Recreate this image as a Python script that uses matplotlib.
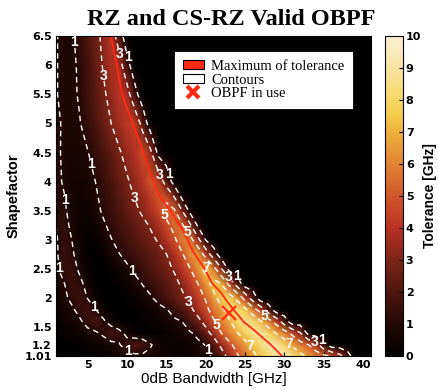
import numpy as np
import matplotlib
matplotlib.use("Agg")
import matplotlib.pyplot as plt
from matplotlib.colors import LinearSegmentedColormap
from matplotlib.patches import Patch
from matplotlib.lines import Line2D

# ---------------- data ----------------
bandwidth_ghz = list(range(1, 42))          # 0dB bandwidth grid [GHz]
shapefactor = [1.01, 1.2, 1.4, 1.6, 1.8, 2.0, 2.25, 2.5, 2.75, 3.0,
               3.25, 3.5, 3.75, 4.0, 4.5, 5.0, 5.5, 6.0, 6.5]

# tolerance [GHz] per shapefactor row, starting at 1 GHz bandwidth (black = 0 beyond)
tol_sf_101 = [0.02, 0.03, 0.05, 0.08, 0.12, 0.18, 0.25, 0.35, 0.5, 0.6, 0.75, 0.8, 0.7, 0.55,
              0.45, 0.35, 0.3, 0.35, 0.5, 0.75, 1.15, 2.2, 3.6, 4.8, 5.7, 6.6, 7.4, 8.2, 9.0,
              9.3, 8.6, 7.5, 6.6, 5.9, 5.4, 4.7, 3.6, 1.8]
tol_sf_120 = [0.05, 0.05, 0.1, 0.15, 0.2, 0.3, 0.45, 0.65, 0.9, 1.5, 2.0, 1.8, 1.1, 0.6, 0.35,
              0.25, 0.3, 0.45, 0.7, 1.05, 2.0, 3.4, 4.6, 5.6, 6.5, 7.4, 8.3, 9.1, 9.1, 8.0,
              6.7, 5.8, 5.1, 3.9, 1.5]
tol_sf_140 = [0.15, 0.2, 0.3, 0.45, 0.65, 0.8, 1.2, 1.8, 1.4, 0.7, 0.3, 0.15, 0.1, 0.15, 0.25,
              0.4, 0.6, 0.85, 1.3, 2.4, 3.5, 5.0, 6.0, 6.9, 7.8, 8.7, 9.0, 8.0, 6.9, 6.0, 4.6,
              3.2, 0.6]
tol_sf_160 = [0.2, 0.3, 0.5, 0.8, 1.4, 1.9, 1.2, 0.5, 0.15, 0.05, 0.05, 0.1, 0.2, 0.35, 0.55,
              0.8, 1.0, 1.75, 2.5, 3.5, 4.8, 5.9, 6.8, 8.0, 8.7, 8.4, 7.2, 5.9, 4.2, 1.9]
tol_sf_180 = [0.3, 0.5, 0.8, 1.35, 1.75, 1.05, 0.45, 0.1, 0.03, 0.05, 0.1, 0.2, 0.4, 0.65, 0.9,
              1.4, 2.0, 2.6, 3.6, 4.6, 5.6, 6.6, 7.8, 8.4, 7.5, 5.9, 4.2, 1.9]
tol_sf_200 = [0.4, 0.75, 1.25, 1.6, 0.98, 0.35, 0.05, 0.02, 0.05, 0.15, 0.3, 0.55, 0.85, 1.3,
              1.8, 2.3, 2.75, 3.3, 4.2, 5.1, 6.5, 7.7, 8.0, 6.6, 4.4, 2.1]
tol_sf_225 = [0.6, 0.95, 1.5, 1.3, 0.6, 0.15, 0.05, 0.05, 0.15, 0.35, 0.65, 1.05, 1.45, 1.85,
              2.25, 2.65, 3.2, 4.1, 5.0, 6.4, 7.5, 7.0, 4.55, 2.1]
tol_sf_250 = [0.8, 1.4, 1.5, 0.8, 0.2, 0.05, 0.05, 0.2, 0.45, 0.8, 1.2, 1.6, 2.0, 2.35, 2.7,
              3.1, 4.0, 4.9, 6.3, 7.4, 5.8, 3.2, 0.5]
tol_sf_275 = [0.85, 1.45, 1.2, 0.5, 0.1, 0.1, 0.25, 0.55, 0.95, 1.3, 1.65, 1.95, 2.3, 2.6,
              2.95, 3.9, 4.8, 6.2, 6.6, 4.3, 2.0]
tol_sf_300 = [0.9, 1.4, 1.0, 0.4, 0.15, 0.2, 0.5, 0.95, 1.35, 1.7, 2.05, 2.4, 2.75, 3.1, 3.9,
              4.7, 5.9, 5.8, 3.6, 1.0]
tol_sf_325 = [1.0, 1.35, 0.8, 0.4, 0.25, 0.45, 0.85, 1.25, 1.65, 2.0, 2.35, 2.7, 3.1, 3.7,
              4.6, 5.5, 5.3, 3.4, 0.8]
tol_sf_350 = [1.1, 1.2, 0.6, 0.4, 0.4, 0.7, 1.15, 1.5, 1.95, 2.4, 2.75, 3.2, 3.8, 4.5, 5.5,
              5.3, 3.1, 0.6]
tol_sf_375 = [1.2, 1.05, 0.6, 0.45, 0.55, 0.85, 1.3, 1.7, 2.15, 2.6, 3.05, 3.55, 4.2, 5.0,
              4.6, 2.9, 0.5]
tol_sf_400 = [1.25, 0.9, 0.6, 0.55, 0.7, 1.0, 1.45, 1.9, 2.4, 2.85, 3.35, 3.95, 5.0, 4.3, 2.2,
              0.35]
tol_sf_450 = [1.2, 0.85, 0.65, 0.75, 0.95, 1.4, 1.85, 2.35, 2.85, 3.4, 4.0, 4.8, 3.4, 0.5]
tol_sf_500 = [1.15, 0.9, 0.75, 0.95, 1.4, 1.95, 2.5, 3.0, 3.6, 4.2, 4.4, 2.3]
tol_sf_550 = [1.05, 0.8, 0.8, 1.1, 1.65, 2.2, 2.8, 3.4, 4.1, 3.8, 1.6]
tol_sf_600 = [1.05, 0.8, 0.8, 1.15, 1.75, 2.4, 3.1, 3.8, 3.9, 1.6]
tol_sf_650 = [1.05, 0.8, 0.85, 1.4, 2.0, 2.6, 3.3, 4.1, 2.0]

# maximum-of-tolerance curve (red line)
max_tol_sf = [6.5, 6.0, 5.5, 5.0, 4.65, 4.3, 4.0, 3.8, 3.5, 3.15, 2.8, 2.5, 2.26, 2.12,
              1.88, 1.6, 1.46, 1.34, 1.2, 1.01]
max_tol_bw = [8.0, 8.7, 9.4, 10.7, 11.7, 12.6, 13.4, 13.9, 15.5, 17.2, 18.4, 19.9, 20.8,
              21.8, 23.1, 24.8, 26.1, 27.1, 28.3, 29.7]

# OBPF in use
obpf_bw = [23.0]
obpf_sf = [1.75]

contour_levels = [1, 3, 5, 7]
x_ticks = [5, 10, 15, 20, 25, 30, 35, 40]
y_ticks = [1.01, 1.2, 1.5, 2, 2.5, 3, 3.5, 4, 4.5, 5, 5.5, 6, 6.5]
y_tick_labels = ["1.01", "1.2", "1.5", "2", "2.5", "3", "3.5", "4", "4.5", "5", "5.5", "6", "6.5"]
cbar_ticks = list(range(0, 11))

# ---------------- build grid ----------------
rows = [tol_sf_101, tol_sf_120, tol_sf_140, tol_sf_160, tol_sf_180, tol_sf_200, tol_sf_225,
        tol_sf_250, tol_sf_275, tol_sf_300, tol_sf_325, tol_sf_350, tol_sf_375, tol_sf_400,
        tol_sf_450, tol_sf_500, tol_sf_550, tol_sf_600, tol_sf_650]
n_bw = len(bandwidth_ghz)
Z = np.array([r + [0.0] * (n_bw - len(r)) for r in rows])
X, Y = np.meshgrid(bandwidth_ghz, shapefactor)

cmap = LinearSegmentedColormap.from_list(
    "tol",
    [(0.0, "#000000"), (0.1, "#240905"), (0.2, "#4e160e"), (0.3, "#7e2418"),
     (0.4, "#b83224"), (0.5, "#d1562a"), (0.6, "#e08334"), (0.7, "#eeb03c"),
     (0.75, "#f4cb48"), (0.8, "#f6d766"), (0.9, "#f8e3a2"), (1.0, "#fbeed2")])

# ---------------- figure ----------------
fig = plt.figure(figsize=(4.38, 3.9), dpi=100)
ax = fig.add_axes([0.1279, 0.0872, 0.7192, 0.8205])
cax = fig.add_axes([0.879, 0.0872, 0.0411, 0.8205])

mesh = ax.pcolormesh(X, Y, Z, shading="gouraud", cmap=cmap, vmin=0, vmax=10)
cs = ax.contour(X, Y, Z, levels=contour_levels, colors="white", linewidths=1.0,
                linestyles=[(0, (4, 3))])

label_pos = [(3.4, 6.39), (7.0, 5.82), (9.1, 6.19), (10.0, 6.14), (5.3, 4.3), (10.8, 3.72),
             (14.4, 4.13), (15.3, 4.13), (14.8, 3.44), (17.6, 3.12), (2.1, 3.69), (1.5, 2.52),
             (10.8, 2.49), (5.5, 1.83), (10.2, 1.11), (20.0, 2.5), (23.0, 2.38), (23.9, 2.38),
             (17.8, 1.92), (21.4, 1.54), (27.5, 1.72), (20.3, 1.11), (25.6, 1.17),
             (30.5, 1.2), (33.9, 1.26), (34.7, 1.26)]
labels = ax.clabel(cs, fmt="%d", fontsize=10, colors="white", inline=True,
                   inline_spacing=1, manual=label_pos)
for t in labels:
    t.set_rotation(0)
    t.set_fontweight("bold")
    t.set_fontfamily("Liberation Sans")

ax.plot(max_tol_bw, max_tol_sf, color="#ff2a14", lw=1.3)
ax.plot(obpf_bw, obpf_sf, linestyle="None", marker="x", color="#ff2a14",
        markersize=10, markeredgewidth=1.6)

ax.set_xlim(1, 41)
ax.set_ylim(1.01, 6.5)
ax.set_xticks(x_ticks)
ax.set_yticks(y_ticks)
ax.set_yticklabels(y_tick_labels)
ax.tick_params(direction="in", length=3, labelsize=8, pad=3)
for lab in ax.get_xticklabels() + ax.get_yticklabels():
    lab.set_fontweight("bold")

fig.text(0.527, 0.95, "RZ and CS-RZ Valid OBPF", family="Liberation Serif",
         fontweight="bold", fontsize=17.5, ha="center", va="center")
ax.set_xlabel("0dB Bandwidth [GHz]", fontfamily="Liberation Sans", fontsize=11, labelpad=1)
ax.set_ylabel("Shapefactor", fontfamily="Liberation Sans", fontweight="bold", fontsize=10.5,
              labelpad=3)

handles = [Patch(facecolor="#ff2a14", edgecolor="black", linewidth=0.8, label="Maximum of tolerance"),
           Patch(facecolor="white", edgecolor="black", linewidth=0.8, label="Contours"),
           Line2D([], [], linestyle="None", marker="x", color="#ff2a14", markersize=9,
                  markeredgewidth=3, label="OBPF in use")]
leg = ax.legend(handles=handles, loc="upper right", bbox_to_anchor=(0.943, 0.953),
                prop={"family": "Liberation Serif", "size": 10.5}, frameon=True,
                fancybox=False, framealpha=1, edgecolor="black", borderpad=0.6,
                labelspacing=0.05, handlelength=1.45, handleheight=0.6, handletextpad=0.5,
                borderaxespad=0)
leg.get_frame().set_linewidth(0.6)

cb = fig.colorbar(mesh, cax=cax, ticks=cbar_ticks)
cb.ax.tick_params(direction="in", length=3, labelsize=8, pad=2)
for lab in cb.ax.get_yticklabels():
    lab.set_fontweight("bold")
cb.set_label("Tolerance [GHz]", fontfamily="Liberation Sans", fontweight="bold", fontsize=10,
             labelpad=1)
cb.outline.set_linewidth(0.8)

fig.savefig("out.png", dpi=100)
